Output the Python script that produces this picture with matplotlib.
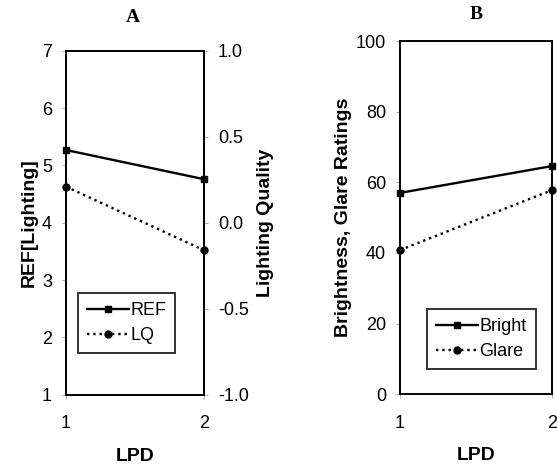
import matplotlib
matplotlib.use("Agg")
import matplotlib.pyplot as plt

plt.rcParams["font.family"] = ["Liberation Sans", "DejaVu Sans"]

lpd = [1, 2]
ref_values = [5.27, 4.76]
lq_values = [0.21, -0.16]
bright_values = [57.0, 64.6]
glare_values = [40.8, 57.8]

left_ticks = [1, 2, 3, 4, 5, 6, 7]
right_ticks = [-1.0, -0.5, 0.0, 0.5, 1.0]
b_ticks = [0, 20, 40, 60, 80, 100]

fig = plt.figure(figsize=(5.57, 4.67), dpi=100)

ax_a = fig.add_axes([0.1185, 0.155, 0.248, 0.736])
ax_a2 = ax_a.twinx()
ax_b = fig.add_axes([0.718, 0.156, 0.273, 0.756])

line_kw = dict(color="black", markersize=5, clip_on=False, zorder=5)

l_ref, = ax_a.plot(lpd, ref_values, "-", marker="s", linewidth=1.7, label="REF", **line_kw)
l_lq, = ax_a2.plot(lpd, lq_values, ":", marker="o", linewidth=1.7, label="LQ", **line_kw)

ax_a.set_xlim(1, 2)
ax_a.set_ylim(1, 7)
ax_a2.set_ylim(-1, 1)
ax_a.set_xticks(lpd)
ax_a.set_yticks(left_ticks)
ax_a2.set_yticks(right_ticks)
ax_a2.set_yticklabels([f"{t:.1f}" for t in right_ticks])

ax_b.plot(lpd, bright_values, "-", marker="s", linewidth=1.7, label="Bright", **line_kw)
ax_b.plot(lpd, glare_values, ":", marker="o", linewidth=1.7, label="Glare", **line_kw)
ax_b.set_xlim(1, 2)
ax_b.set_ylim(0, 100)
ax_b.set_xticks(lpd)
ax_b.set_yticks(b_ticks)

for ax in (ax_a, ax_a2, ax_b):
    for sp in ax.spines.values():
        sp.set_linewidth(1.4)
        sp.set_color("black")
    ax.tick_params(axis="y", direction="out", length=3, width=0.6, color="#999999",
                   labelsize=13, pad=7)
    ax.tick_params(axis="x", direction="out", length=3, width=0.6, color="#999999",
                   labelsize=13, pad=12)

lab = dict(fontsize=14, fontweight="bold")
ax_a.set_ylabel("REF[Lighting]", labelpad=3, **lab)
ax_a2.set_ylabel("Lighting Quality", labelpad=6, **lab)
ax_a.set_xlabel("LPD", labelpad=11, **lab)
ax_b.set_ylabel("Brightness, Glare Ratings", labelpad=3, **lab)
ax_b.set_xlabel("LPD", labelpad=11, **lab)

ttl = dict(fontsize=14, fontweight="bold", family=["Liberation Serif", "DejaVu Serif"])
fig.text(0.239, 0.963, "A", ha="center", va="center", **ttl)
fig.text(0.855, 0.968, "B", ha="center", va="center", **ttl)

leg_kw = dict(frameon=True, fancybox=False, fontsize=13, handlelength=2.3,
              handletextpad=0.1, borderpad=0.5, labelspacing=0.45,
              borderaxespad=0.0)
leg_a = ax_a.legend([l_ref, l_lq], ["REF", "LQ"], loc="lower left",
                    bbox_to_anchor=(0.087, 0.121), **leg_kw)
leg_b = ax_b.legend(loc="lower left", bbox_to_anchor=(0.178, 0.071), **leg_kw)
for leg in (leg_a, leg_b):
    leg.get_frame().set_edgecolor("black")
    leg.get_frame().set_linewidth(1.4)

fig.savefig("out.png", dpi=100)
